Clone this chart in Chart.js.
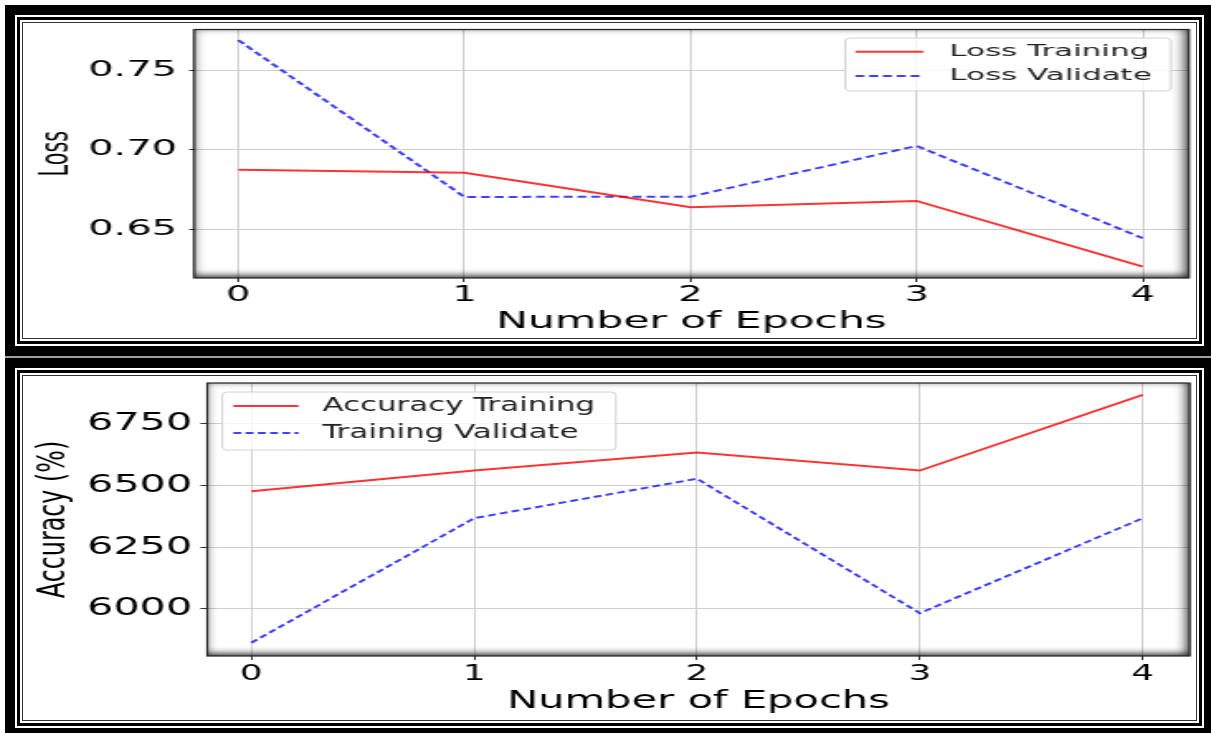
<!DOCTYPE html>
<html>
<head>
<meta charset="utf-8">
<script src="https://cdn.jsdelivr.net/npm/chart.js@4.4.1/dist/chart.umd.min.js"></script>
<style>
  html, body { margin: 0; padding: 0; background: #fff; }
  body { width: 1211px; height: 733px; overflow: hidden; position: relative; }
  .panel { position: absolute; left: 5px; width: 1209px; box-sizing: border-box;
           border: 10px solid #000; padding: 2px; background: #fff; }
  .inner { border: 3px solid #000; padding: 2px; height: 100%; box-sizing: border-box; }
  .core { border: 1px solid #333; position: relative; overflow: hidden; height: 100%; box-sizing: border-box; background: #fff; }
  .stretch { position: absolute; left: 0; top: 0; transform-origin: 0 0; }
  #sep { position: absolute; left: 5px; top: 356px; width: 1206px; height: 2px; background: #a0a0a0; }
</style>
</head>
<body>
<div class="panel" style="top:5px;height:351px"><div class="inner"><div class="core">
  <div class="stretch" id="lossBox" style="width:630.6px;height:313px;transform:scaleX(1.86)"><canvas id="lossChart"></canvas></div>
</div></div></div>
<div id="sep"></div>
<div class="panel" style="top:358px;height:380px"><div class="inner"><div class="core">
  <div class="stretch" id="accBox" style="width:710.9px;height:342px;transform:scaleX(1.65)"><canvas id="accChart"></canvas></div>
</div></div></div>
<script>
// DATA
const epochs = [0, 1, 2, 3, 4];
const lossTraining = [0.6874, 0.6855, 0.6638, 0.6678, 0.6264];
const lossValidate = [0.7692, 0.6703, 0.6705, 0.7025, 0.6443];
const accTraining = [6477, 6561, 6634, 6561, 6868];
const accValidate = [5863, 6368, 6528, 5983, 6368];
const lossTicks = [0.65, 0.70, 0.75];
const accTicks = [6000, 6250, 6500, 6750];

Chart.defaults.font.family = "'DejaVu Sans'";
Chart.defaults.color = "#000";

const toPoints = (ys) => ys.map((y, i) => ({ x: epochs[i], y: y }));

// inner shadow + dark frame of the plot area
const plotFrame = {
  id: "plotFrame",
  beforeDatasetsDraw(chart) {
    const { ctx, chartArea: a } = chart;
    ctx.save();
    ctx.beginPath();
    ctx.rect(a.left, a.top, a.width, a.height);
    ctx.clip();
    ctx.shadowColor = "rgba(0,0,0,0.9)";
    ctx.shadowBlur = 7;
    ctx.shadowOffsetX = -1.5;
    ctx.shadowOffsetY = -2;
    ctx.lineWidth = 20;
    ctx.strokeStyle = "#000";
    ctx.strokeRect(a.left - 10, a.top - 10, a.width + 20, a.height + 20);
    ctx.restore();
    ctx.save();
    ctx.strokeStyle = "#222";
    ctx.lineWidth = 1.2;
    ctx.strokeRect(a.left, a.top, a.width, a.height);
    ctx.restore();
  },
};

// matplotlib style legend box
const boxLegend = {
  id: "boxLegend",
  afterDraw(chart, args, o) {
    const ctx = chart.ctx;
    ctx.save();
    ctx.fillStyle = "rgba(255,255,255,0.8)";
    ctx.strokeStyle = "#d2d2d2";
    ctx.lineWidth = 1;
    ctx.beginPath();
    ctx.roundRect(o.x, o.y, o.w, o.h, 3);
    ctx.fill();
    ctx.stroke();
    ctx.font = o.size + "px 'DejaVu Sans'";
    ctx.textBaseline = "middle";
    chart.data.datasets.forEach((ds, i) => {
      const y = o.y + o.rows[i];
      ctx.strokeStyle = ds.borderColor;
      ctx.lineWidth = ds.borderWidth;
      ctx.setLineDash(ds.borderDash || []);
      ctx.beginPath();
      ctx.moveTo(o.x + o.lineX0, y);
      ctx.lineTo(o.x + o.lineX1, y);
      ctx.stroke();
      ctx.setLineDash([]);
      ctx.fillStyle = "#222";
      ctx.fillText(ds.label, o.x + o.textX, y);
    });
    ctx.restore();
  },
};

const makeChart = (id, cfg) => {
  const ctx = document.getElementById(id).getContext("2d");
  return new Chart(ctx, {
    type: "line",
    data: {
      datasets: [
        {
          label: cfg.names[0],
          data: toPoints(cfg.series[0]),
          borderColor: "rgba(255,0,0,0.8)",
          borderWidth: 2,
          pointRadius: 0,
          tension: 0,
        },
        {
          label: cfg.names[1],
          data: toPoints(cfg.series[1]),
          borderColor: "rgba(0,0,255,0.75)",
          borderWidth: 2,
          borderDash: [4.8, 2.6],
          pointRadius: 0,
          tension: 0,
        },
      ],
    },
    options: {
      responsive: true,
      maintainAspectRatio: false,
      animation: false,
      devicePixelRatio: 1,
      layout: { padding: { left: 0, right: cfg.padRight, top: cfg.padTop, bottom: 0 } },
      plugins: {
        legend: { display: false },
        tooltip: { enabled: false },
        boxLegend: cfg.legend,
      },
      scales: {
        x: {
          type: "linear",
          min: cfg.xMin,
          max: cfg.xMax,
          afterBuildTicks: (s) => { s.ticks = epochs.map((v) => ({ value: v })); },
          afterFit: (s) => { s.height = cfg.xHeight; s.paddingLeft = 0; s.paddingRight = 0; },
          grid: { color: "#cfcfcf", lineWidth: 1, tickLength: cfg.xTick, tickColor: "#333" },
          border: { display: false },
          ticks: { font: { size: cfg.xFont }, padding: cfg.xPad, maxRotation: 0, autoSkip: false },
          title: {
            display: true,
            text: "Number of Epochs",
            font: { size: cfg.xTitleFont },
            padding: { top: 0, bottom: cfg.xTitlePad },
          },
        },
        y: {
          min: cfg.yMin,
          max: cfg.yMax,
          afterBuildTicks: (s) => { s.ticks = cfg.yTicks.map((v) => ({ value: v })); },
          afterFit: (s) => { s.width = cfg.yWidth; s.paddingTop = 0; s.paddingBottom = 0; },
          grid: { color: "#cfcfcf", lineWidth: 1, tickLength: cfg.yTick, tickColor: "#333" },
          border: { display: false },
          ticks: { font: { size: cfg.yFont }, padding: cfg.yPad, callback: cfg.fmt },
          title: {
            display: true,
            text: cfg.yTitle,
            font: { size: cfg.yTitleFont },
            padding: { top: cfg.yTitlePad, bottom: 0 },
          },
        },
      },
    },
    plugins: [plotFrame, boxLegend],
  });
};

makeChart("lossChart", {
  names: ["Loss Training", "Loss Validate"],
  series: [lossTraining, lossValidate],
  xMin: -0.195, xMax: 4.204,
  yMin: 0.6192, yMax: 0.7759,
  yTicks: lossTicks,
  fmt: (v) => v.toFixed(2),
  padRight: 4.8, padTop: 6.5,
  xHeight: 58, yWidth: 91.9,
  xTick: 4, xPad: 1, xFont: 20.5,
  yTick: 2.7, yPad: 6.4, yFont: 21.5,
  xTitleFont: 22.8, xTitlePad: 0,
  yTitle: "Loss", yTitleFont: 20.8, yTitlePad: 6,
  legend: { x: 441.4, y: 15, w: 174.7, h: 53, rows: [13.7, 38], lineX0: 5.4, lineX1: 42, textX: 55.9, size: 16.6 },
});

makeChart("accChart", {
  names: ["Accuracy Training", "Training Validate"],
  series: [accTraining, accValidate],
  xMin: -0.198, xMax: 4.211,
  yMin: 5809.5, yMax: 6916,
  yTicks: accTicks,
  fmt: (v) => String(v),
  padRight: 4.8, padTop: 7,
  xHeight: 62, yWidth: 111.5,
  xTick: 4, xPad: 2, xFont: 21.5,
  yTick: 4.2, yPad: 4.9, yFont: 25,
  xTitleFont: 25.2, xTitlePad: 1,
  yTitle: "Accuracy (%)", yTitleFont: 23.8, yTitlePad: 5,
  legend: { x: 120.6, y: 16, w: 238.2, h: 58, rows: [14, 41], lineX0: 6.7, lineX1: 46.1, textX: 60.6, size: 18.7 },
});
</script>
</body>
</html>
